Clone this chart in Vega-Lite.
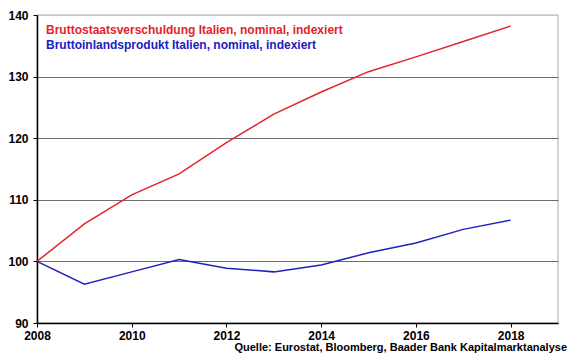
{
  "$schema": "https://vega.github.io/schema/vega-lite/v6.json",
  "autosize": "none",
  "width": 521,
  "height": 308,
  "padding": {"left": 37, "top": 15, "right": 22, "bottom": 36},
  "background": "white",
  "config": {
    "font": "Liberation Sans",
    "view": {"stroke": "#c8c8c8", "strokeWidth": 1.5}
  },
  "title": {
    "text": "Quelle: Eurostat, Bloomberg, Baader Bank Kapitalmarktanalyse",
    "orient": "bottom",
    "anchor": "end",
    "font": "Liberation Sans",
    "fontSize": 11,
    "fontWeight": "bold",
    "color": "#000",
    "offset": 1,
    "dx": 9
  },
  "data": {
    "values": [
      {"year": 2008, "series": "Bruttostaatsverschuldung Italien, nominal, indexiert", "value": 100},
      {"year": 2009, "series": "Bruttostaatsverschuldung Italien, nominal, indexiert", "value": 106.1},
      {"year": 2010, "series": "Bruttostaatsverschuldung Italien, nominal, indexiert", "value": 110.8},
      {"year": 2011, "series": "Bruttostaatsverschuldung Italien, nominal, indexiert", "value": 114.2},
      {"year": 2012, "series": "Bruttostaatsverschuldung Italien, nominal, indexiert", "value": 119.3},
      {"year": 2013, "series": "Bruttostaatsverschuldung Italien, nominal, indexiert", "value": 123.9},
      {"year": 2014, "series": "Bruttostaatsverschuldung Italien, nominal, indexiert", "value": 127.5},
      {"year": 2015, "series": "Bruttostaatsverschuldung Italien, nominal, indexiert", "value": 130.8},
      {"year": 2016, "series": "Bruttostaatsverschuldung Italien, nominal, indexiert", "value": 133.2},
      {"year": 2017, "series": "Bruttostaatsverschuldung Italien, nominal, indexiert", "value": 135.7},
      {"year": 2018, "series": "Bruttostaatsverschuldung Italien, nominal, indexiert", "value": 138.2},
      {"year": 2008, "series": "Bruttoinlandsprodukt Italien, nominal, indexiert", "value": 100},
      {"year": 2009, "series": "Bruttoinlandsprodukt Italien, nominal, indexiert", "value": 96.3},
      {"year": 2010, "series": "Bruttoinlandsprodukt Italien, nominal, indexiert", "value": 98.3},
      {"year": 2011, "series": "Bruttoinlandsprodukt Italien, nominal, indexiert", "value": 100.3},
      {"year": 2012, "series": "Bruttoinlandsprodukt Italien, nominal, indexiert", "value": 98.9},
      {"year": 2013, "series": "Bruttoinlandsprodukt Italien, nominal, indexiert", "value": 98.3},
      {"year": 2014, "series": "Bruttoinlandsprodukt Italien, nominal, indexiert", "value": 99.4},
      {"year": 2015, "series": "Bruttoinlandsprodukt Italien, nominal, indexiert", "value": 101.4},
      {"year": 2016, "series": "Bruttoinlandsprodukt Italien, nominal, indexiert", "value": 103.0},
      {"year": 2017, "series": "Bruttoinlandsprodukt Italien, nominal, indexiert", "value": 105.2},
      {"year": 2018, "series": "Bruttoinlandsprodukt Italien, nominal, indexiert", "value": 106.7}
    ]
  },
  "mark": {"type": "line", "strokeWidth": 1.5},
  "encoding": {
    "x": {
      "field": "year",
      "type": "quantitative",
      "scale": {"domain": [2008, 2019], "nice": false, "zero": false},
      "axis": {
        "title": null,
        "values": [2008, 2010, 2012, 2014, 2016, 2018],
        "format": "d",
        "grid": false,
        "domainColor": "#000",
        "domainWidth": 1.5,
        "tickColor": "#000",
        "tickSize": 4,
        "labelFont": "Liberation Sans",
        "labelFontSize": 12,
        "labelFontWeight": "bold",
        "labelColor": "#000",
        "labelPadding": 3,
        "labelFlush": false
      }
    },
    "y": {
      "field": "value",
      "type": "quantitative",
      "scale": {"domain": [90, 140], "nice": false, "zero": false},
      "axis": {
        "title": null,
        "values": [90, 100, 110, 120, 130, 140],
        "grid": true,
        "gridColor": {"condition": {"test": "datum.value == 140 || datum.value == 90", "value": "#c8c8c8"}, "value": "#6e6e6e"},
        "gridWidth": 1.2,
        "domainColor": "#000",
        "domainWidth": 1.5,
        "tickColor": "#000",
        "tickSize": 4,
        "labelFont": "Liberation Sans",
        "labelFontSize": 12,
        "labelFontWeight": "bold",
        "labelColor": "#000",
        "labelPadding": 5,
        "labelFlush": false
      }
    },
    "color": {
      "field": "series",
      "type": "nominal",
      "sort": ["Bruttostaatsverschuldung Italien, nominal, indexiert", "Bruttoinlandsprodukt Italien, nominal, indexiert"],
      "scale": {
        "domain": ["Bruttostaatsverschuldung Italien, nominal, indexiert", "Bruttoinlandsprodukt Italien, nominal, indexiert"],
        "range": ["#e3242b", "#2020c0"]
      },
      "legend": {
        "title": null,
        "orient": "none",
        "legendX": -3,
        "legendY": 9,
        "padding": 0,
        "symbolSize": 0,
        "symbolStrokeWidth": 0,
        "symbolOpacity": 0,
        "labelOffset": 0,
        "labelFont": "Liberation Sans",
        "labelFontSize": 12,
        "labelFontWeight": "bold",
        "labelLimit": 400,
        "rowPadding": 3,
        "encode": {
          "labels": {"update": {"fill": {"scale": "color", "field": "value"}}}
        }
      }
    }
  }
}
